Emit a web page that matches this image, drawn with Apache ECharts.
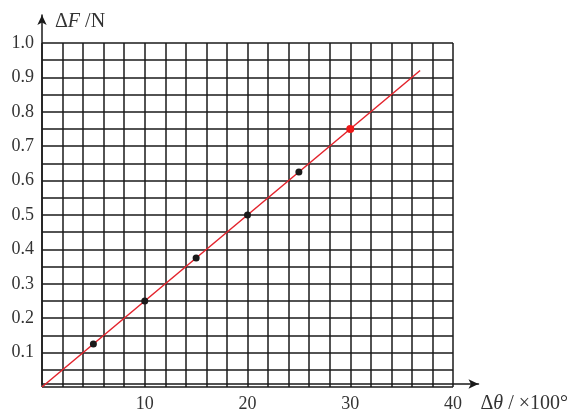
<!DOCTYPE html>
<html>
<head>
<meta charset="utf-8">
<script src="https://cdn.jsdelivr.net/npm/echarts@6/dist/echarts.min.js"></script>
<style>
  html, body { margin: 0; padding: 0; background: #fff; }
  #chart { width: 571px; height: 414px; }
</style>
</head>
<body>
<div id="chart"></div>
<script>
// measured points (Δθ in ×100°, ΔF in N)
const deltaTheta = [5, 10, 15, 20, 25, 30]
const deltaF = [0.125, 0.25, 0.375, 0.5, 0.625, 0.75]
// fitted straight line end points
const fitTheta = [0, 36.8]
const fitF = [0, 0.92]

const serif = 'Liberation Serif'
const ink = '#1a1a1a'

const chart = echarts.init(document.getElementById('chart'))

chart.setOption({
  backgroundColor: '#fff',
  animation: false,
  grid: [
    { left: 42, right: 118, top: 43, bottom: 27 },
    // outer frame only used for the arrowed axes
    { left: 42, right: 92, top: 15, bottom: 27 },
  ],
  xAxis: [
    {
      type: 'value',
      gridIndex: 0,
      min: 0,
      max: 40,
      interval: 2,
      axisLine: { show: false },
      axisTick: { show: false },
      splitLine: { show: true, lineStyle: { color: ink, width: 1.5 } },
      axisLabel: {
        margin: 8,
        color: '#333',
        fontFamily: serif,
        fontSize: 18,
        formatter: (v) => (v > 0 && v % 10 === 0 ? String(v) : ''),
      },
    },
    {
      type: 'value',
      gridIndex: 1,
      min: 0,
      max: 1,
      axisLine: {
        show: true,
        symbol: ['none', 'arrow'],
        symbolSize: [7, 10],
        lineStyle: { color: ink, width: 1.5 },
      },
      axisTick: { show: false },
      axisLabel: { show: false },
      splitLine: { show: false },
      name: '{n|Δ}{it|θ}{n| / ×100°}',
      nameLocation: 'end',
      nameGap: 2,
      nameTextStyle: {
        align: 'left',
        verticalAlign: 'top',
        padding: [10, 0, 0, 0],
        rich: {
          n: { fontFamily: serif, fontSize: 20, color: '#333' },
          it: { fontFamily: serif, fontSize: 20, fontStyle: 'italic', color: '#333' },
        },
      },
    },
  ],
  yAxis: [
    {
      type: 'value',
      gridIndex: 0,
      min: 0,
      max: 1,
      interval: 0.05,
      axisLine: { show: false },
      axisTick: { show: false },
      splitLine: { show: true, lineStyle: { color: ink, width: 1.5 } },
      axisLabel: {
        margin: 8,
        color: '#333',
        fontFamily: serif,
        fontSize: 18,
        formatter: (v) => {
          const k = Math.round(v * 100)
          return k > 0 && k % 10 === 0 ? v.toFixed(1) : ''
        },
      },
    },
    {
      type: 'value',
      gridIndex: 1,
      min: 0,
      max: 1,
      axisLine: {
        show: true,
        symbol: ['none', 'arrow'],
        symbolSize: [7, 10],
        lineStyle: { color: ink, width: 1.5 },
      },
      axisTick: { show: false },
      axisLabel: { show: false },
      splitLine: { show: false },
      name: '{n|Δ}{it|F}{n| /N}',
      nameLocation: 'end',
      nameGap: -7,
      nameTextStyle: {
        align: 'left',
        verticalAlign: 'middle',
        padding: [0, 0, 0, 13],
        rich: {
          n: { fontFamily: serif, fontSize: 20, color: '#333' },
          it: { fontFamily: serif, fontSize: 20, fontStyle: 'italic', color: '#333' },
        },
      },
    },
  ],
  series: [
    {
      name: 'fit',
      type: 'line',
      xAxisIndex: 0,
      yAxisIndex: 0,
      data: fitTheta.map((x, i) => [x, fitF[i]]),
      symbol: 'none',
      lineStyle: { color: '#e3232c', width: 1.5 },
      z: 3,
    },
    {
      name: 'points',
      type: 'scatter',
      xAxisIndex: 0,
      yAxisIndex: 0,
      data: deltaTheta.map((x, i) => [x, deltaF[i]]),
      symbolSize: (v, p) => (p.dataIndex === deltaTheta.length - 1 ? 8 : 7),
      itemStyle: {
        color: (p) => (p.dataIndex === deltaTheta.length - 1 ? '#f01818' : '#1a1a1a'),
        opacity: 1,
      },
      z: 4,
    },
  ],
})
</script>
</body>
</html>
